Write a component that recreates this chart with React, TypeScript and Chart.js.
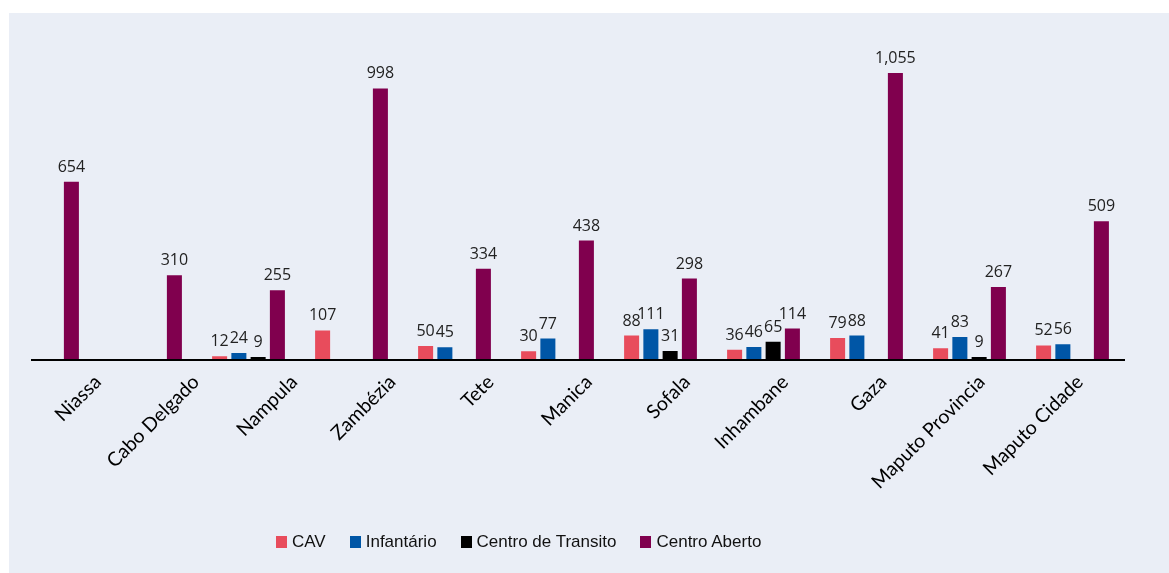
import React, { useEffect, useRef } from "react";
import { Chart, registerables } from "chart.js";

Chart.register(...registerables);

const categories = [
  "Niassa",
  "Cabo Delgado",
  "Nampula",
  "Zambézia",
  "Tete",
  "Manica",
  "Sofala",
  "Inhambane",
  "Gaza",
  "Maputo Provincia",
  "Maputo Cidade",
];

const cav = [null, null, 12, 107, 50, 30, 88, 36, 79, 41, 52];
const infantario = [null, null, 24, null, 45, 77, 111, 46, 88, 83, 56];
const centroTransito = [null, null, 9, null, null, null, 31, 65, null, 9, null];
const centroAberto = [654, 310, 255, 998, 334, 438, 298, 114, 1055, 267, 509];

const seriesNames = ["CAV", "Infantário", "Centro de Transito", "Centro Aberto"];
const seriesColors = ["#e84c5c", "#0056a6", "#000000", "#80004e"];

const valueLabelPlugin = {
  id: "valueLabels",
  afterDatasetsDraw(chart: any) {
    const ctx = chart.ctx;
    ctx.save();
    ctx.font = "16px 'Open Sans', sans-serif";
    ctx.fillStyle = "#222222";
    ctx.textAlign = "center";
    ctx.textBaseline = "alphabetic";
    chart.data.datasets.forEach((ds: any, di: number) => {
      const meta = chart.getDatasetMeta(di);
      meta.data.forEach((el: any, i: number) => {
        const raw = ds.data[i];
        if (!raw || raw.y === null || raw.y === undefined) return;
        ctx.fillText(raw.y.toLocaleString("en-US"), el.x, el.y - 10);
      });
    });
    ctx.restore();
  },
};

export default function App() {
  const ref = useRef<HTMLCanvasElement>(null);

  useEffect(() => {
    const series = [cav, infantario, centroTransito, centroAberto];
    const integerTicks = (axis: any) => {
      axis.ticks = categories.map((_, i) => ({ value: i }));
    };
    const chart = new Chart(ref.current as HTMLCanvasElement, {
      type: "bar",
      data: {
        datasets: series.map((vals, k) => ({
          label: seriesNames[k],
          data: vals.map((v, i) => ({ x: i, y: v })),
          backgroundColor: seriesColors[k],
          categoryPercentage: 0.748,
          barPercentage: 0.78,
          xAxisID: "x",
          yAxisID: "y",
        })),
      } as any,
      options: {
        animation: false,
        responsive: false,
        layout: { padding: { left: 23, right: 45, top: 7, bottom: 0 } },
        plugins: {
          legend: { display: false },
          tooltip: { enabled: false },
        },
        scales: {
          x: {
            type: "linear",
            offset: false,
            min: -0.102,
            max: 10.5,
            display: false,
            afterBuildTicks: integerTicks,
          },
          x2: {
            type: "linear",
            offset: false,
            position: "bottom",
            min: -0.67,
            max: 10.45,
            afterBuildTicks: integerTicks,
            grid: { display: false, drawTicks: false, offset: false },
            border: { display: true, color: "#000000", width: 2, z: 1 },
            ticks: {
              autoSkip: false,
              minRotation: 45,
              maxRotation: 45,
              padding: 11,
              color: "#000000",
              font: { family: "Lato, 'Open Sans', sans-serif", size: 19.5 },
              callback: (v: any) => categories[v as number],
            },
            afterFit: (axis: any) => {
              axis.height = 213.5;
            },
          },
          y: {
            display: false,
            min: 0,
            max: 1250,
          },
        },
      } as any,
      plugins: [valueLabelPlugin],
    });
    return () => chart.destroy();
  }, []);

  return (
    <div
      style={{
        position: "absolute",
        left: 9,
        top: 13,
        width: 1160,
        height: 560,
        background: "#eaeef6",
      }}
    >
      <canvas ref={ref} width={1160} height={560} style={{ display: "block", width: 1160, height: 560 }} />
      <div
        style={{
          position: "absolute",
          left: 267,
          top: 519,
          display: "flex",
          alignItems: "center",
          gap: 24,
          fontFamily: "'Liberation Sans Narrow', 'Liberation Sans', sans-serif",
          fontSize: 17,
          color: "#111111",
          whiteSpace: "nowrap",
        }}
      >
        {seriesNames.map((name, k) => (
          <div key={name} style={{ display: "flex", alignItems: "center" }}>
            <span
              style={{
                display: "inline-block",
                width: 11,
                height: 12,
                background: seriesColors[k],
                marginRight: 5,
              }}
            />
            <span>{name}</span>
          </div>
        ))}
      </div>
    </div>
  );
}
